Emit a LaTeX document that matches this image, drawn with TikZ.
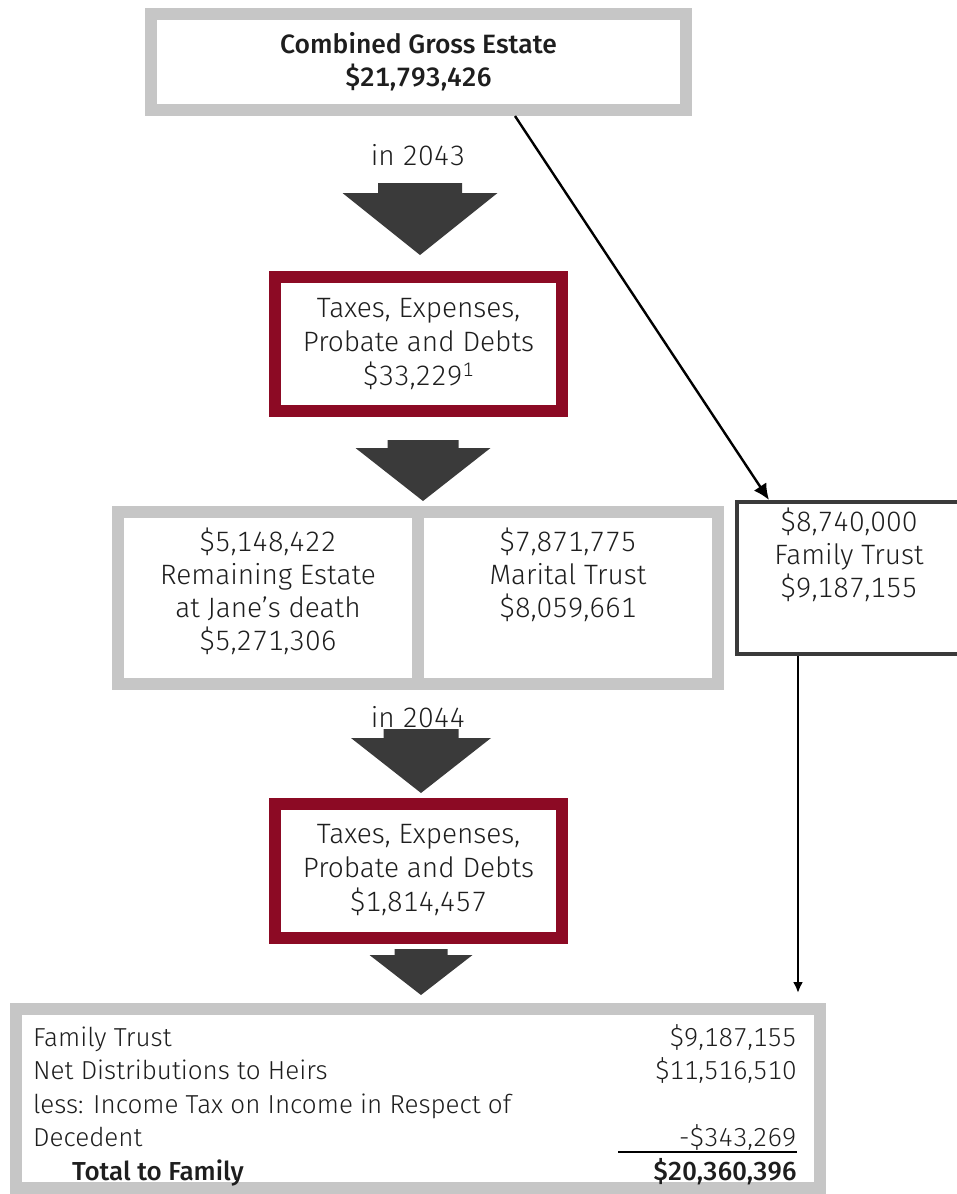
\documentclass[tikz,border=0pt]{standalone}
\usepackage{fontspec}
\setmainfont{Fira Sans}[UprightFont={* Light},BoldFont={* Medium},Numbers={Lining,Monospaced}]
\usetikzlibrary{arrows.meta}

\definecolor{framegrey}{RGB}{198,198,198}
\definecolor{taxred}{RGB}{140,10,36}
\definecolor{arrowgrey}{RGB}{58,58,58}
\definecolor{inkgrey}{RGB}{30,30,30}

\newcommand*\boxfont{\fontsize{28}{34}\selectfont}
\newcommand*\titlefont{\fontsize{26.5}{33}\selectfont\bfseries}
\newcommand*\tablefont{\fontsize{26}{33}\selectfont}
% #1 centre x, #2 top, #3 half shaft, #4 shoulder, #5 half head, #6 tip
\newcommand*\fatarrow[6]{%
    \fill[arrowgrey] ({#1-#3},#2) -- ({#1+#3},#2) -- ({#1+#3},#4) -- ({#1+#5},#4)
        -- (#1,#6) -- ({#1-#5},#4) -- ({#1-#3},#4) -- cycle;}

\tikzset{estate/.style 2 args={
    draw=framegrey,
    line width=12pt,
    fill=white,
    rectangle,
    minimum width=#1,
    minimum height=#2,
    inner sep=0pt,
    text=inkgrey,
    font=\boxfont,
    align=center
}}
\tikzset{share/.style={
    estate={300pt}{172pt},
    font=\fontsize{28}{33}\selectfont,
    text depth=17pt
}}
\tikzset{taxes/.style={
    estate={287pt}{134pt},
    draw=taxred
}}
\tikzset{trust/.style={
    estate={224pt}{152pt},
    font=\fontsize{28}{33}\selectfont,
    text depth=17pt,
    draw=arrowgrey,
    line width=4pt
}}
\tikzset{row/.style={anchor=base west, inner sep=0pt, text=inkgrey, font=\tablefont}}
\tikzset{amount/.style={anchor=base east, inner sep=0pt, text=inkgrey, font=\tablefont}}
\tikzset{conn/.style={draw=black, line width=2.4pt, -{Latex[length=16pt,width=15pt]}}}

\begin{document}
\begin{tikzpicture}[x=1pt,y=-1pt]
    \useasboundingbox (0,0) rectangle (957,1194);

    % Boxes down the middle.
    \node[estate={535pt}{96pt}, font=\titlefont] (gross) at (418.5,62)
        {Combined Gross Estate\\\$21,793,426};
    \node[text=inkgrey, font=\boxfont] (year1) at (418,155) {in 2043};
    \node[taxes] (taxes1) at (418.5,344)
        {Taxes, Expenses,\\Probate and Debts\\\$33,229\textsuperscript{1}};
    \node[share] (remaining) at (268,598)
        {\$5,148,422\\Remaining Estate\\at Jane's death\\\$5,271,306};
    \node[share] (marital) at (568,598)
        {\$7,871,775\\Marital Trust\\\$8,059,661\\\mbox{}};
    \node[text=inkgrey, font=\boxfont] (year2) at (418,717) {in 2044};
    \node[taxes] (taxes2) at (418.5,870.5)
        {Taxes, Expenses,\\Probate and Debts\\\$1,814,457};

    % Family trust on the right.
    \node[trust] (famtrust) at (849,578)
        {\$8,740,000\\Family Trust\\\$9,187,155\\\mbox{}};

    % Summary at the bottom.
    \node[estate={804pt}{179pt}] (summary) at (418,1098.5) {};
    \node[row] (ftlabel) at (33,1046) {Family Trust};
    \node[row] (netlabel) at (33,1079) {Net Distributions to Heirs};
    \node[row] (lesslabel) at (33,1113) {less: Income Tax on Income in Respect of};
    \node[row] (declabel) at (33,1146) {Decedent};
    \node[row, font=\tablefont\bfseries] (totlabel) at (72,1180) {Total to Family};
    \node[amount] (ftamount) at (797,1046) {\$9,187,155};
    \node[amount] (netamount) at (797,1079) {\$11,516,510};
    \node[amount] (decamount) at (797,1146) {-\$343,269};
    \node[amount, font=\tablefont\bfseries] (totamount) at (797,1180) {\$20,360,396};
    \draw[line width=2pt] (618,1152) -- (decamount.east |- 0,1152);

    % Block arrows.
    \fatarrow{420}{183}{42}{193}{77.5}{255}
    \fatarrow{423}{440}{35.5}{448}{67.5}{501}
    \fatarrow{421}{729}{37.5}{738}{70}{793}
    \fatarrow{421}{949}{26.5}{955}{51.5}{995}

    % Connectors.
    \draw[conn] ([xshift=96.5pt]gross.south) -- ([xshift=34pt]famtrust.north west);
    \coordinate (ftdown) at ([xshift=-51pt]famtrust.south);
    \draw[conn, -{Latex[length=11pt,width=10pt]}, shorten >=10pt] (ftdown) -- (ftdown |- summary.north);

\end{tikzpicture}
\end{document}
